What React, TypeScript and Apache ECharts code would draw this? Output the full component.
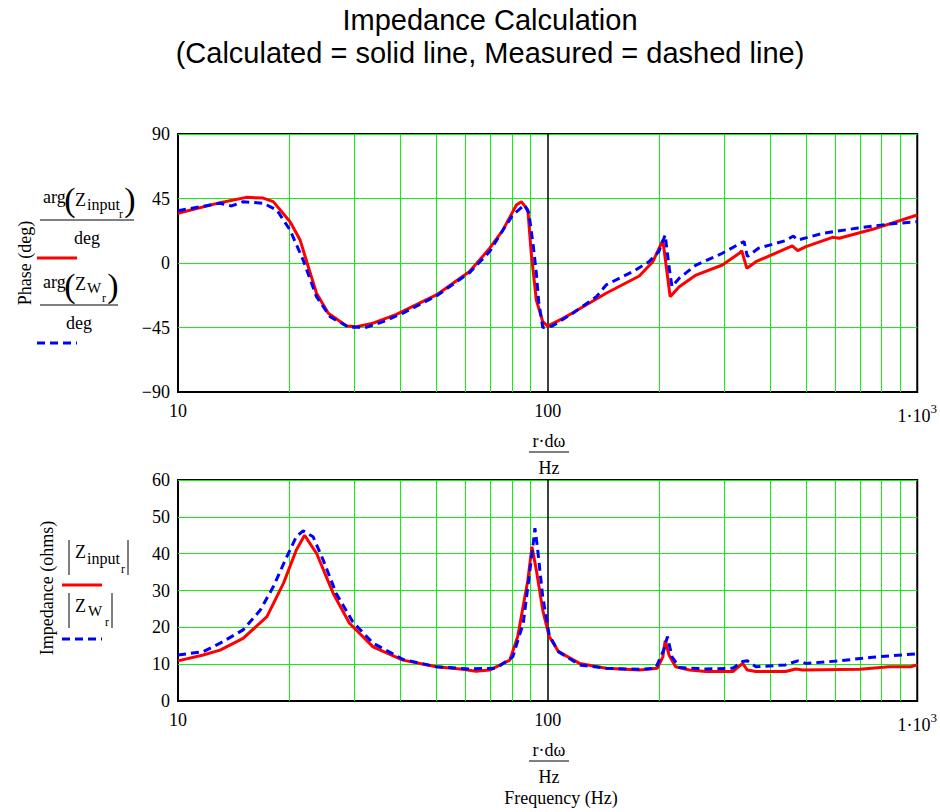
import React, { useEffect, useRef } from "react";
import * as echarts from "echarts";

// ---------- data ----------
const freqPhaseCalc = [10, 13, 15.3, 17, 18.1, 20.1, 21.4, 22.3, 23.7, 25.5, 28.6, 30.4, 33.7, 39, 50, 61.5, 69.7, 75.7, 82.3, 84.9, 88.4, 90.3, 93.2, 97, 100, 110, 117, 144, 177, 192.6, 205, 214.5, 227, 252, 297, 330, 335, 346, 366, 459, 475, 500, 590, 615, 757, 1000];
const phaseCalc = [34.7, 42.1, 45.8, 45.3, 42.8, 28.8, 16, 0.9, -21.1, -35, -44, -44.4, -42, -35.8, -22.3, -6, 10.3, 23, 40.5, 42.8, 37, 6.8, -25.8, -40.9, -44, -38.6, -34.7, -21.1, -9.1, 0.9, 16, -23.5, -16.5, -8.4, -1.4, 6.8, 8.6, -3.7, 0.9, 11.9, 8.6, 11.4, 17.9, 17.3, 23.5, 33.5];

const freqPhaseMeas = [10, 13, 13.96, 15, 17, 18.5, 20.1, 21.8, 23.7, 25.8, 29, 32.3, 35.9, 40.6, 50, 61.5, 69.7, 75.7, 80.5, 86.6, 89, 91.5, 93.2, 94.6, 97, 103, 117, 135.5, 144, 170, 188, 200, 208, 213, 217, 227, 252, 297, 330, 340, 347, 372, 440, 462, 476, 554, 684, 840, 1000];
const phaseMeas = [36.5, 41.7, 39.8, 42.8, 41.7, 37, 23, 2.1, -23.5, -37.5, -44.9, -44.9, -40.9, -35, -23, -6.7, 8, 23, 33.5, 40.5, 34.7, 11.4, -7.1, -27, -45, -44, -35, -23.5, -15.3, -6, 0.9, 8, 19.5, -2.5, -16.5, -10.6, -1.4, 6.8, 13.3, 14.9, 4.5, 10.3, 15.6, 18.8, 16, 20.7, 24.2, 27.2, 28.8];

const freqImpCalc = [10, 11.7, 13, 15, 17.4, 19.3, 20.9, 22, 23.7, 26.3, 29.1, 33.7, 40.6, 50, 58.9, 64, 69.7, 79, 83, 88.4, 90.7, 93.2, 97, 101, 107, 122, 144, 177, 198, 205, 208, 213, 222, 242, 268, 317, 337, 347, 366, 440, 469, 490, 700, 840, 960, 1000];
const impCalc = [10.9, 12.5, 13.8, 17, 22.9, 32, 41, 45, 40.1, 29.2, 21.1, 14.7, 11.1, 9.3, 8.6, 8.1, 8.4, 11.1, 17.5, 32.8, 41.9, 35.6, 24.7, 17.5, 13.4, 10.2, 8.9, 8.4, 8.9, 12, 16.4, 12.5, 9.3, 8.4, 8, 8, 10.2, 8.4, 8, 8, 8.7, 8.4, 8.6, 9.3, 9.3, 9.8];

const freqImpMeas = [10, 11.7, 13, 15, 16.7, 18.1, 19.6, 20.9, 21.8, 23.2, 24.7, 26.8, 29.7, 33.7, 40.6, 50, 61.5, 72.6, 80.5, 85.9, 88.4, 91, 92.4, 93.8, 97, 101, 107, 122, 144, 177, 196, 206, 211, 217, 227, 268, 317, 337, 347, 366, 440, 475, 500, 615, 757, 1000];
const impMeas = [12.5, 13.4, 15.7, 19.3, 24.7, 31, 38.7, 44.6, 46.2, 44.6, 38.3, 29.2, 21.5, 15.7, 11.3, 9.3, 8.7, 8.9, 12, 21.1, 31, 41, 46.9, 41.9, 28.3, 17.9, 13.4, 9.8, 8.9, 8.6, 8.9, 13.8, 17.5, 12, 9.1, 8.7, 8.9, 10.7, 10.9, 9.3, 9.8, 10.9, 10.2, 10.9, 11.9, 12.8];

const minorGridFreqs = [20, 30, 40, 50, 60, 70, 80, 90, 200, 300, 400, 500, 600, 700, 800, 900];
const majorGridFreqs = [100];

// ---------- styles ----------
const SERIF = '"Liberation Serif", "Times New Roman", serif';
const SANS = '"Liberation Sans", Arial, sans-serif';
const GREEN = "#11ee11";
const RED = "#ff0000";
const BLUE = "#0000ff";

const zip = (xs: number[], ys: number[]) => xs.map((x, i) => [x, ys[i]]);

function txt(text: string, x: number, y: number, size: number, align = "left", extra: any = {}) {
  const { family, ...rest } = extra;
  return {
    type: "text",
    x,
    y,
    silent: true,
    ...rest,
    style: {
      text,
      fill: "#000",
      font: `${size}px ${family || SERIF}`,
      textAlign: align,
      align,
      textVerticalAlign: "middle",
      verticalAlign: "middle",
    },
  };
}
function ln(x1: number, y1: number, x2: number, y2: number, stroke: string, lineWidth: number, dash?: number[]) {
  return {
    type: "line",
    silent: true,
    shape: { x1, y1, x2, y2 },
    style: { stroke, lineWidth, lineDash: dash },
  };
}

export default function App() {
  const ref = useRef<HTMLDivElement>(null);
  useEffect(() => {
    if (!ref.current) return;
    const chart = echarts.init(ref.current, undefined, { renderer: "svg" });

    const gridLines = (color: string, width: number, vals: number[]) => ({
      silent: true,
      symbol: ["none", "none"],
      z: 1,
      label: { show: false },
      lineStyle: { color, width, type: "solid" },
      data: vals.map((v) => ({ xAxis: v })),
    });

    const xAxisBase = (gridIndex: number) => ({
      type: "log",
      logBase: 10,
      min: 10,
      max: 1000,
      gridIndex,
      axisLine: { show: false },
      axisTick: { show: false },
      splitLine: { show: false },
      axisLabel: {
        show: true,
        margin: 10,
        showMinLabel: true,
        showMaxLabel: true,
        fontFamily: SERIF,
        fontSize: 18,
        color: "#000",
        formatter: (v: number) => (v >= 999 ? "{a|1·10}{s|3}" : String(Math.round(v))),
        rich: {
          a: { fontFamily: SERIF, fontSize: 18, color: "#000", verticalAlign: "bottom", padding: [5, 0, 0, 0] },
          s: { fontFamily: SERIF, fontSize: 13, color: "#000", verticalAlign: "top" },
        },
      },
    });

    const yAxisBase = (gridIndex: number, min: number, max: number, interval: number) => ({
      type: "value",
      gridIndex,
      min,
      max,
      interval,
      axisLine: { show: false },
      axisTick: { show: false },
      splitLine: { show: true, showMinLine: false, lineStyle: { color: GREEN, width: 1 } },
      axisLabel: {
        margin: 8,
        fontFamily: SERIF,
        fontSize: 18,
        color: "#000",
        formatter: (v: number) => String(v).replace("-", "\u2212"),
      },
    });

    const graphics: any[] = [
      txt("Impedance Calculation", 490, 20, 29, "center", { family: SANS }),
      txt("(Calculated = solid line, Measured = dashed line)", 490, 53, 29, "center", { family: SANS }),

      // top-left label
      txt("Phase (deg)", 25, 263, 18, "center", { rotation: Math.PI / 2 }),
      // legend 1
      txt("arg", 43, 197, 18),
      txt("(", 70, 199, 34, "center"),
      txt("Z", 75, 200, 18),
      txt("input", 87, 204, 16),
      txt("r", 119, 214, 12),
      txt(")", 130, 199, 34, "center"),
      ln(40, 220, 134, 220, "#000", 1),
      txt("deg", 87, 238, 18, "center"),
      ln(37, 258, 77, 258, RED, 3),
      // legend 2
      txt("arg", 43, 282, 18),
      txt("(", 70, 285, 34, "center"),
      txt("Z", 75, 284, 18),
      txt("W", 87, 288, 15),
      txt("r", 102, 298, 12),
      txt(")", 113, 285, 34, "center"),
      ln(40, 305, 118, 305, "#000", 1),
      txt("deg", 79, 323, 18, "center"),
      ln(37, 343, 77, 343, BLUE, 3, [8, 5]),

      // top x-axis title
      txt("r·dω", 549, 441, 18, "center"),
      ln(529, 452, 569, 452, "#000", 1),
      txt("Hz", 549, 468, 18, "center"),

      // bottom-left label
      txt("Impedance (ohms)", 47, 588, 18, "center", { rotation: Math.PI / 2 }),
      ln(69, 540, 69, 575, "#000", 1),
      txt("Z", 75, 552, 18),
      txt("input", 87, 558, 16),
      txt("r", 121, 569, 12),
      ln(128, 540, 128, 575, "#000", 1),
      ln(62, 585, 102, 585, RED, 3),
      ln(69, 593, 69, 628, "#000", 1),
      txt("Z", 75, 606, 18),
      txt("W", 88, 611, 15),
      txt("r", 105, 622, 12),
      ln(112, 593, 112, 628, "#000", 1),
      ln(62, 639, 102, 639, BLUE, 3, [8, 5]),

      // bottom x-axis title
      txt("r·dω", 549, 750, 18, "center"),
      ln(529, 761, 569, 761, "#000", 1),
      txt("Hz", 549, 777, 18, "center"),
      txt("Frequency (Hz)", 561, 798, 18, "center"),
    ];

    chart.setOption({
      animation: false,
      backgroundColor: "#fff",
      grid: [
        { left: 178, top: 134, width: 740, height: 258, show: true, borderColor: "#000", borderWidth: 2, backgroundColor: "transparent" },
        { left: 178, top: 480, width: 740, height: 221, show: true, borderColor: "#000", borderWidth: 2, backgroundColor: "transparent" },
      ],
      xAxis: [xAxisBase(0), xAxisBase(1)],
      yAxis: [yAxisBase(0, -90, 90, 45), yAxisBase(1, 0, 60, 10)],
      series: [
        { name: "grid-top", type: "line", xAxisIndex: 0, yAxisIndex: 0, data: [], z: 1, markLine: gridLines(GREEN, 1, minorGridFreqs) },
        { name: "grid-top-major", type: "line", xAxisIndex: 0, yAxisIndex: 0, data: [], z: 1, markLine: gridLines("#000", 1.5, majorGridFreqs) },
        { name: "grid-bot", type: "line", xAxisIndex: 1, yAxisIndex: 1, data: [], z: 1, markLine: gridLines(GREEN, 1, minorGridFreqs) },
        { name: "grid-bot-major", type: "line", xAxisIndex: 1, yAxisIndex: 1, data: [], z: 1, markLine: gridLines("#000", 1.5, majorGridFreqs) },
        {
          name: "Phase calculated", type: "line", xAxisIndex: 0, yAxisIndex: 0, showSymbol: false, z: 3,
          lineStyle: { color: RED, width: 3 }, data: zip(freqPhaseCalc, phaseCalc),
        },
        {
          name: "Phase measured", type: "line", xAxisIndex: 0, yAxisIndex: 0, showSymbol: false, z: 4,
          lineStyle: { color: BLUE, width: 3, type: [8, 5] }, data: zip(freqPhaseMeas, phaseMeas),
        },
        {
          name: "Impedance calculated", type: "line", xAxisIndex: 1, yAxisIndex: 1, showSymbol: false, z: 3,
          lineStyle: { color: RED, width: 3 }, data: zip(freqImpCalc, impCalc),
        },
        {
          name: "Impedance measured", type: "line", xAxisIndex: 1, yAxisIndex: 1, showSymbol: false, z: 4,
          lineStyle: { color: BLUE, width: 3, type: [8, 5] }, data: zip(freqImpMeas, impMeas),
        },
      ],
      graphic: graphics,
    });
    return () => chart.dispose();
  }, []);

  return (
    <div
      ref={ref}
      style={{ position: "absolute", left: 0, top: 0, width: 940, height: 812, background: "#fff" }}
    />
  );
}
